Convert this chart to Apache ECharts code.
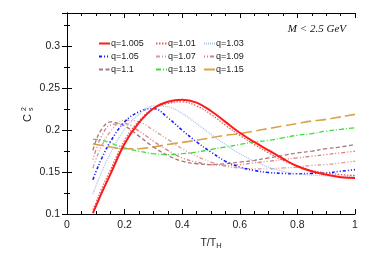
<!DOCTYPE html>
<html>
<head>
<meta charset="utf-8">
<script src="https://cdn.jsdelivr.net/npm/echarts@6/dist/echarts.min.js"></script>
<style>html,body{margin:0;padding:0;background:#fff;}#c{width:374px;height:255px;}</style>
</head>
<body>
<div id="c"></div>
<script>
const T = [0.09,0.1,0.12,0.15,0.2,0.25,0.3,0.35,0.4,0.45,0.5,0.55,0.6,0.65,0.7,0.75,0.8,0.85,0.9,0.95,1.0];
const q1005 = [0.101,0.109,0.125,0.147,0.184,0.209,0.226,0.234,0.2365,0.233,0.223,0.210,0.197,0.186,0.176,0.166,0.157,0.151,0.147,0.144,0.143];
const q101  = [0.105,0.113,0.130,0.152,0.188,0.211,0.226,0.232,0.234,0.229,0.219,0.206,0.194,0.183,0.173,0.164,0.157,0.152,0.149,0.147,0.146];
const q103  = [0.124,0.133,0.150,0.172,0.201,0.219,0.229,0.228,0.220,0.208,0.195,0.183,0.172,0.163,0.156,0.151,0.148,0.1465,0.1455,0.145,0.145];
const q105  = [0.141,0.150,0.166,0.186,0.210,0.222,0.226,0.215,0.200,0.186,0.174,0.163,0.156,0.152,0.1495,0.1485,0.148,0.1485,0.149,0.151,0.153];
const q107  = [0.155,0.165,0.181,0.198,0.212,0.210,0.200,0.189,0.178,0.169,0.162,0.157,0.155,0.154,0.154,0.155,0.156,0.158,0.159,0.161,0.163];
const q109  = [0.165,0.176,0.193,0.206,0.208,0.199,0.187,0.176,0.167,0.162,0.159,0.158,0.159,0.161,0.163,0.165,0.167,0.169,0.171,0.173,0.175];
const q110  = [0.176,0.187,0.201,0.210,0.205,0.193,0.180,0.170,0.163,0.160,0.159,0.160,0.162,0.164,0.167,0.170,0.173,0.175,0.178,0.180,0.183];
const q113  = [0.189,0.189,0.188,0.185,0.179,0.175,0.172,0.171,0.172,0.174,0.177,0.180,0.183,0.186,0.188,0.191,0.194,0.196,0.199,0.201,0.203];
const q115  = [0.184,0.183,0.182,0.180,0.178,0.178,0.180,0.183,0.1855,0.188,0.191,0.194,0.196,0.199,0.202,0.205,0.208,0.211,0.213,0.216,0.219];
const names = ['q=1.005','q=1.01','q=1.03','q=1.05','q=1.07','q=1.09','q=1.1','q=1.13','q=1.15'];
const values = [q1005,q101,q103,q105,q107,q109,q110,q113,q115];
const xTicks = [0,0.2,0.4,0.6,0.8,1];

const styles = [
  {color:'#ff1a1a', width:2, type:'solid'},
  {color:'#e06060', width:1.3, type:[1.5,1.5]},
  {color:'#a9c3ea', width:1.3, type:[1,1]},
  {color:'#1a1aff', width:1.6, type:[3,2,1,2,1,2]},
  {color:'#d89a9a', width:1.3, type:[4,2,1,2,1,2]},
  {color:'#e07a7a', width:1.3, type:[1,2,1,2,4,2]},
  {color:'#a57a7a', width:1.3, type:[4,2.5]},
  {color:'#40dd40', width:1.3, type:[5,2,1,2]},
  {color:'#d8a448', width:1.6, type:[11,4]}
];

const FONT = 'Liberation Sans';
const chart = echarts.init(document.getElementById('c'), null, {renderer:'canvas'});
const series = names.map((n,i)=>({
  name:n, type:'line', smooth:0.4, symbol:'none',
  lineStyle:styles[i], itemStyle:{color:styles[i].color},
  data:T.map((t,j)=>[t, values[i][j]]), z: 10 - i
}));

function legendCol(left, list){
  return {
    orient:'vertical', left:left, top:39, itemWidth:11, itemHeight:8, itemGap:4,
    padding:0, data:list, itemStyle:{opacity:0},
    textStyle:{fontFamily:FONT, fontSize:9, color:'#222', padding:[0,0,0,-4]}
  };
}

const axisLine = {show:true, lineStyle:{color:'#000', width:1}};
const axisTick = {show:true, inside:true, length:5, lineStyle:{color:'#000'}};

chart.setOption({
  animation:false,
  grid:{left:67, right:19, top:13, bottom:40},
  legend:[
    legendCol(98,['q=1.005','q=1.05','q=1.1']),
    legendCol(155,['q=1.01','q=1.07','q=1.13']),
    legendCol(203,['q=1.03','q=1.09','q=1.15'])
  ],
  xAxis:[
    {type:'value', min:0, max:1, interval:0.2, position:'bottom',
      axisLine:axisLine, axisTick:axisTick, splitLine:{show:false},
      minorTick:{show:true, splitNumber:4, length:3, lineStyle:{color:'#000'}},
      axisLabel:{fontFamily:FONT, fontSize:10.5, color:'#222', margin:6,
        formatter:v=>{const t=xTicks.find(x=>Math.abs(x-v)<1e-6); return t===undefined?'':String(t);}},
      name:'T/T{s|H}', nameLocation:'middle', nameGap:22,
      nameTextStyle:{fontFamily:FONT, fontSize:10.5, color:'#222',
        rich:{s:{fontFamily:FONT, fontSize:7.5, color:'#222', verticalAlign:'bottom', padding:[6,0,0,0]}}}
    },
    {type:'value', min:0, max:1, interval:0.2, position:'top', axisLabel:{show:false},
      axisLine:axisLine, axisTick:axisTick, splitLine:{show:false},
      minorTick:{show:true, splitNumber:4, length:3, lineStyle:{color:'#000'}}}
  ],
  yAxis:[
    {type:'value', min:0.1, max:0.34, interval:0.05, position:'left',
      axisLine:axisLine, axisTick:axisTick, splitLine:{show:false},
      minorTick:{show:true, splitNumber:2, length:3, lineStyle:{color:'#000'}},
      axisLabel:{fontFamily:FONT, fontSize:10.5, color:'#222', margin:7, showMaxLabel:false,
        formatter:v=>{const r=Math.round(v*100)/100; return (Math.abs(v*20-Math.round(v*20))<1e-6)?String(r):'';}}},
    {type:'value', min:0.1, max:0.34, interval:0.05, position:'right',
      axisLine:axisLine, axisTick:axisTick, splitLine:{show:false},
      minorTick:{show:true, splitNumber:2, length:3, lineStyle:{color:'#000'}},
      axisLabel:{show:false}}
  ],
  graphic:[
    {type:'text', right:28, top:24, style:{text:'M < 2.5 GeV', font:'italic 11px "Liberation Serif"', fill:'#111'}},
    {type:'group', x:29, y:114, rotation:Math.PI/2, children:[
      {type:'text', x:-4, y:-1, style:{text:'C', font:'11px "Liberation Sans"', fill:'#222', textAlign:'center', textVerticalAlign:'middle'}},
      {type:'text', x:3, y:-5, style:{text:'2', font:'7px "Liberation Sans"', fill:'#222', textAlign:'left', textVerticalAlign:'middle'}},
      {type:'text', x:3, y:2, style:{text:'s', font:'7px "Liberation Sans"', fill:'#222', textAlign:'left', textVerticalAlign:'middle'}}
    ]}
  ],
  series:series
});
</script>
</body>
</html>
